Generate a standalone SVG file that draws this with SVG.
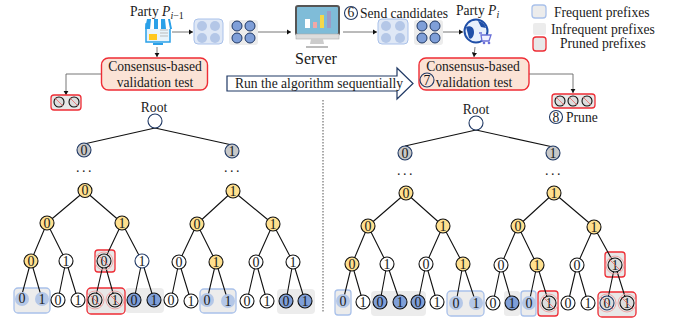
<svg xmlns="http://www.w3.org/2000/svg" width="681" height="324" viewBox="0 0 681 324">
<style>
text{font-family:"Liberation Serif","Times New Roman",serif;fill:#1a1a1a;font-size:13.600px}
.c{text-anchor:middle}
.d{font-size:14px;text-anchor:middle}
.big{font-size:16px}
.dt{font-size:14px;letter-spacing:2.500px;text-anchor:middle}
.w,.y,.g,.b,.r,.lb,.u{stroke-width:1.1}
.w{fill:#fff;stroke:#111}
.u{fill:#fff;stroke:#1f3864}
.y{fill:#ffe08e;stroke:#111}
.g{fill:#c8c8c8;stroke:#1f3864}
.b{fill:#7f9fd8;stroke:#111}
.lb{fill:#b4c7e7;stroke:none}
.r{fill:#ddd;stroke:#111}
.rx{fill:none;stroke:#e99;stroke-width:.8}
.sl{stroke:#e55;stroke-width:.7}
.bf{fill:#ececec;stroke:#a9c1ea;stroke-width:1.3}
.bg{fill:#ececec;stroke:none}
.br{fill:#e8e8e8;stroke:#ee2d35;stroke-width:1.3}
.rb{fill:#fbe3d6;stroke:#ee2d35;stroke-width:1.4}
.e{fill:none;stroke:#111;stroke-width:1.1}
.a{fill:none;stroke:#666;stroke-width:.9;marker-end:url(#ah)}
.num{fill:#fff;stroke:#1f3864;stroke-width:1.1}
.dot{fill:#7f9fd8;stroke:#1f3864;stroke-width:1}
.pale{fill:#b4c7e7}
</style>
<defs>
<marker id="ah" markerWidth="6" markerHeight="6" refX="5" refY="3" orient="auto"><path d="M0 0L5 3L0 6z" fill="#111"/></marker>
</defs>
<rect width="681" height="324" fill="#fff"/>

<g id="highlights">
<rect class="bf" x="14" y="288" width="36" height="25" rx="4"/>
<rect class="bg" x="125" y="288" width="39" height="25" rx="4"/>
<rect class="bf" x="200" y="289" width="36" height="24" rx="4"/>
<rect class="bg" x="277" y="289" width="38" height="25" rx="4"/>
<rect class="br" x="95" y="250" width="20" height="22" rx="3"/>
<rect class="br" x="87" y="288" width="38" height="26" rx="4"/>
<rect class="bf" x="335" y="290" width="16" height="25" rx="3"/>
<rect class="bg" x="371" y="291" width="55" height="25" rx="4"/>
<rect class="bf" x="447" y="291" width="37" height="25" rx="4"/>
<rect class="bg" x="504" y="291" width="16" height="25" rx="3"/>
<rect class="bf" x="521" y="291" width="15" height="25" rx="3"/>
<rect class="br" x="538" y="291" width="20" height="25" rx="3"/>
<rect class="br" x="605" y="252" width="20" height="25" rx="3"/>
<rect class="br" x="598" y="292" width="38" height="25" rx="4"/>
</g>

<g id="connectors">
<path class="e" d="M155 128L84 144M155 128L232 145M85 191L47 223M85 191L122 223M47 223L31 261M47 223L66 261M122 223L104 261M122 223L142 261M31 261L21 298M31 261L42 299M66 261L58 300M66 261L78 300M104 261L95 300M104 261L115 300M142 261L134 300M142 261L154 300M233 191L197 224M233 191L273 224M197 224L179 262M197 224L216 262M273 224L256 262M273 224L293 262M179 262L171 300M179 262L191 301M216 262L207 300M216 262L228 301M256 262L247 301M256 262L267 301M293 262L286 301M293 262L305 301"/>
<path class="e" d="M476 130L405 146M476 130L553 147M406 193L368 226M406 193L443 226M368 226L352 264M368 226L387 264M443 226L426 264M443 226L463 264M352 264L343 301M352 264L363 302M387 264L380 302M387 264L400 302M426 264L418 302M426 264L437 302M463 264L456 303M463 264L476 303M554 193L518 226M554 193L594 227M518 226L501 265M518 226L537 265M594 227L577 265M594 227L615 265M501 265L493 303M501 265L512 303M537 265L529 303M537 265L549 303M577 265L568 303M577 265L588 303M615 265L607 303M615 265L627 303"/>
<path class="a" d="M172 32H193"/>
<path class="a" d="M258 32H291"/>
<path class="a" d="M343 32H377"/>
<path class="a" d="M442 32H463"/>
<path class="a" d="M157 47V57"/>
<path class="a" d="M475 47L474 57"/>
<path class="a" d="M101 74H66V95"/>
<path class="a" d="M529 74H573V93"/>
<path d="M323 100V313" fill="none" stroke="#555" stroke-width="1" stroke-dasharray="1.500 1.500"/>
</g>

<g id="party-prev">
<text x="130" y="16">Party <tspan font-style="italic">P</tspan><tspan style="font-size:10px" dy="3" font-style="italic">i</tspan><tspan style="font-size:10px">−1</tspan></text>
<rect x="146" y="24" width="24" height="18" fill="#e8f4fc" stroke="#2aa0e8" stroke-width="1.500"/>
<path d="M147 19H170L172 29H145z" fill="#2aa0e8"/>
<path d="M151 19h3v10h-4zM158 19h3v10h-3zM165 19h3l2 10h-4z" fill="#fff"/>
<rect x="149" y="34" width="8" height="6" fill="#ffc820"/>
<path d="M160 30h8M160 33h8M160 36h8" stroke="#bbb" stroke-width="1"/>
<rect x="153" y="43" width="10" height="2" fill="#2aa0e8"/>
</g>

<g id="cand-left">
<rect x="194" y="19" width="29" height="25" rx="4" fill="#dfe8f6" stroke="#a9c1ea" stroke-width="1"/>
<circle class="pale" cx="202" cy="26" r="5"/><circle class="pale" cx="215" cy="26" r="5"/><circle class="pale" cx="202" cy="38" r="5"/><circle class="pale" cx="215" cy="38" r="5"/>
<rect x="229" y="20" width="29" height="25" rx="3" fill="#ececec"/>
<circle class="dot" cx="237" cy="26" r="5"/><circle class="dot" cx="250" cy="26" r="5"/><circle class="dot" cx="237" cy="38" r="5"/><circle class="dot" cx="250" cy="38" r="5"/>
</g>

<g id="server">
<rect x="296" y="6" width="43" height="29" rx="2" fill="#7fbcd8" stroke="#555" stroke-width="2"/>
<rect x="296" y="34" width="43" height="5" fill="#ddd" stroke="#aaa" stroke-width=".6"/>
<path d="M311 39h12l1 5h-14z" fill="#ccc"/>
<rect x="306" y="46" width="22" height="2" fill="#bbb"/>
<rect x="305" y="19" width="5" height="9" fill="#fff"/>
<rect x="313" y="22" width="4" height="6" fill="#f2a7a7"/>
<rect x="320" y="15" width="4" height="13" fill="#f4d84a"/>
<rect x="327" y="11" width="4" height="17" fill="#9b9bc7"/>
<text class="big c" x="316" y="64">Server</text>
</g>

<g id="validation-left">
<rect class="rb" x="101.500" y="58" width="106" height="32" rx="7"/>
<text class="c" x="155" y="71">Consensus-based</text>
<text class="c" x="155" y="87">validation test</text>
</g>

<g id="pruned-left">
<rect class="br" x="51" y="95" width="30" height="15" rx="3"/>
<circle class="r" cx="59" cy="102" r="5"/><circle class="r" cx="74" cy="102" r="5"/>
<path class="sl" d="M55 98L63 106M70 98L78 106"/>
</g>

<g id="run">
<path d="M227 76H397V68L413 83.500L397 99V91H227z" fill="#fff" stroke="#1f3864" stroke-width="1.200"/>
<text x="235" y="88">Run the algorithm sequentially</text>
</g>

<g id="send">
<circle class="num" cx="351" cy="13" r="6.500"/>
<text class="c" x="351" y="17">6</text>
<text x="360" y="18">Send candidates</text>
</g>

<g id="cand-right">
<rect x="378" y="19" width="30" height="25" rx="4" fill="#dfe8f6" stroke="#a9c1ea" stroke-width="1"/>
<circle class="pale" cx="386" cy="26" r="5"/><circle class="pale" cx="400" cy="26" r="5"/><circle class="pale" cx="386" cy="38" r="5"/><circle class="pale" cx="400" cy="38" r="5"/>
<rect x="414" y="20" width="29" height="25" rx="3" fill="#ececec"/>
<circle class="dot" cx="422" cy="26" r="5"/><circle class="dot" cx="435" cy="26" r="5"/><circle class="dot" cx="422" cy="38" r="5"/><circle class="dot" cx="435" cy="38" r="5"/>
</g>

<g id="party-i">
<text x="456" y="15">Party <tspan font-style="italic">P</tspan><tspan style="font-size:10px" dy="3" font-style="italic">i</tspan></text>
<circle cx="476" cy="31" r="11.500" fill="#e8f0fc" stroke="#1f4fa8" stroke-width="2"/>
<path d="M466 27c4-2 8 0 8 5s-3 8-5 6zM478 21c3 0 7 3 8 7l-5-1z" fill="#1f4fa8"/>
<path d="M481 35h10l-2 6h-7zM479 33h3" fill="#f0f0ff" stroke="#6a70d8" stroke-width="1.300"/>
<circle cx="484" cy="43" r="1.300" fill="#6a70d8"/><circle cx="489" cy="43" r="1.300" fill="#6a70d8"/>
</g>

<g id="validation-right">
<rect class="rb" x="419" y="58" width="110" height="32" rx="7"/>
<text class="c" x="473" y="71">Consensus-based</text>
<text class="c" x="474" y="87">validation test</text>
<circle cx="427" cy="80" r="7" fill="none" stroke="#1f3864" stroke-width="1.100"/>
<text class="c" x="427" y="84.500">7</text>
</g>

<g id="pruned-right">
<rect class="br" x="552" y="94" width="43" height="14" rx="3"/>
<circle class="r" cx="560" cy="101" r="5"/><circle class="r" cx="573" cy="101" r="5"/><circle class="r" cx="587" cy="101" r="5"/>
<path class="sl" d="M556 97L564 105M569 97L577 105M583 97L591 105"/>
<circle class="num" cx="556" cy="117" r="6.500"/>
<text class="c" x="556" y="121.500">8</text>
<text x="566" y="122">Prune</text>
</g>

<g id="legend">
<rect class="bf" x="532" y="5" width="14" height="13" rx="3"/>
<text x="554" y="17">Frequent prefixes</text>
<rect class="bg" x="533" y="23" width="13" height="12" rx="2"/>
<text x="551" y="34">Infrequent prefixes</text>
<rect class="br" x="533" y="37" width="13" height="14" rx="3"/>
<text x="560" y="48">Pruned prefixes</text>
</g>

<g id="root-left"><text class="c" x="154" y="112">Root</text><circle class="u" cx="155" cy="121" r="7"/></g>
<g id="root-right"><text class="c" x="476" y="114">Root</text><circle class="u" cx="476" cy="123" r="7"/></g>
<g id="dots"><text class="dt" x="85" y="172">...</text><text class="dt" x="233" y="172">...</text><text class="dt" x="406" y="175">...</text><text class="dt" x="554" y="175">...</text></g>

<g id="l1"><circle class="g" cx="84" cy="150" r="7"/><text class="d" x="84" y="154.500">0</text></g>
<g id="l2"><circle class="g" cx="232" cy="151" r="7"/><text class="d" x="232" y="155.500">1</text></g>
<g id="l3"><circle class="y" cx="85" cy="190.500" r="7"/><text class="d" x="85" y="195">0</text></g>
<g id="l4"><circle class="y" cx="233" cy="191" r="7"/><text class="d" x="233" y="195.500">1</text></g>
<g id="l5"><circle class="y" cx="47" cy="223" r="7"/><text class="d" x="47" y="227.500">0</text></g>
<g id="l6"><circle class="y" cx="122" cy="223" r="7"/><text class="d" x="122" y="227.500">1</text></g>
<g id="l7"><circle class="y" cx="197" cy="224" r="7"/><text class="d" x="197" y="228.500">0</text></g>
<g id="l8"><circle class="y" cx="273" cy="224" r="7"/><text class="d" x="273" y="228.500">1</text></g>
<g id="l9"><circle class="y" cx="31" cy="261" r="7"/><text class="d" x="31" y="265.500">0</text></g>
<g id="l10"><circle class="w" cx="66" cy="261" r="7"/><text class="d" x="66" y="265.500">1</text></g>
<g id="l11"><circle class="r" cx="104" cy="261" r="7"/><circle class="rx" cx="104" cy="261" r="9"/><text class="d" x="104" y="265.500">0</text><path class="sl" d="M98 255L110 267"/></g>
<g id="l12"><circle class="u" cx="142" cy="261" r="7"/><text class="d" x="142" y="265.500">1</text></g>
<g id="l13"><circle class="w" cx="179" cy="262" r="7"/><text class="d" x="179" y="266.500">0</text></g>
<g id="l14"><circle class="y" cx="216" cy="262" r="7"/><text class="d" x="216" y="266.500">1</text></g>
<g id="l15"><circle class="w" cx="256" cy="262" r="7"/><text class="d" x="256" y="266.500">0</text></g>
<g id="l16"><circle class="w" cx="293" cy="262" r="7"/><text class="d" x="293" y="266.500">1</text></g>
<g id="l17"><circle class="lb" cx="22" cy="299" r="7"/><text class="d" x="22" y="303">0</text></g>
<g id="l18"><circle class="lb" cx="42" cy="299" r="7"/><text class="d" x="42" y="303.500">1</text></g>
<g id="l19"><circle class="w" cx="58" cy="300" r="7"/><text class="d" x="58" y="304.500">0</text></g>
<g id="l20"><circle class="w" cx="78" cy="300" r="7"/><text class="d" x="78" y="304.500">1</text></g>
<g id="l21"><circle class="r" cx="95" cy="300" r="7"/><circle class="rx" cx="95" cy="300" r="9"/><text class="d" x="95" y="304.500">0</text><path class="sl" d="M89 294L101 306"/></g>
<g id="l22"><circle class="r" cx="115" cy="300" r="7"/><circle class="rx" cx="115" cy="300" r="9"/><text class="d" x="115" y="304.500">1</text><path class="sl" d="M109 294L121 306"/></g>
<g id="l23"><circle class="b" cx="134" cy="300" r="7"/><text class="d" x="134" y="304.500">0</text></g>
<g id="l24"><circle class="b" cx="154" cy="300" r="7"/><text class="d" x="154" y="304.500">1</text></g>
<g id="l25"><circle class="w" cx="171" cy="300" r="7"/><text class="d" x="171" y="304.500">0</text></g>
<g id="l26"><circle class="w" cx="191" cy="301" r="7"/><text class="d" x="191" y="305.500">1</text></g>
<g id="l27"><circle class="lb" cx="207" cy="300" r="7"/><text class="d" x="207" y="304.500">0</text></g>
<g id="l28"><circle class="lb" cx="228" cy="301" r="7"/><text class="d" x="228" y="305.500">1</text></g>
<g id="l29"><circle class="w" cx="247" cy="301" r="7"/><text class="d" x="247" y="305.500">0</text></g>
<g id="l30"><circle class="w" cx="267" cy="301" r="7"/><text class="d" x="267" y="305.500">1</text></g>
<g id="l31"><circle class="b" cx="286" cy="301" r="7"/><text class="d" x="286" y="305.500">0</text></g>
<g id="l32"><circle class="b" cx="305" cy="301" r="7"/><text class="d" x="305" y="305.500">1</text></g>

<g id="r1"><circle class="g" cx="405" cy="153" r="7"/><text class="d" x="405" y="157.500">0</text></g>
<g id="r2"><circle class="g" cx="553" cy="153" r="7"/><text class="d" x="553" y="157.500">1</text></g>
<g id="r3"><circle class="y" cx="406" cy="193" r="7"/><text class="d" x="406" y="197.500">0</text></g>
<g id="r4"><circle class="y" cx="554" cy="193" r="7"/><text class="d" x="554" y="197.500">1</text></g>
<g id="r5"><circle class="y" cx="368" cy="226" r="7"/><text class="d" x="368" y="230.500">0</text></g>
<g id="r6"><circle class="y" cx="443" cy="226" r="7"/><text class="d" x="443" y="230.500">1</text></g>
<g id="r7"><circle class="y" cx="518" cy="226" r="7"/><text class="d" x="518" y="230.500">0</text></g>
<g id="r8"><circle class="y" cx="594" cy="227" r="7"/><text class="d" x="594" y="231.500">1</text></g>
<g id="r9"><circle class="y" cx="352" cy="264" r="7"/><text class="d" x="352" y="268.500">0</text></g>
<g id="r10"><circle class="w" cx="387" cy="264" r="7"/><text class="d" x="387" y="268.500">1</text></g>
<g id="r11"><circle class="w" cx="426" cy="264" r="7"/><text class="d" x="426" y="268.500">0</text></g>
<g id="r12"><circle class="y" cx="463" cy="264" r="7"/><text class="d" x="463" y="268.500">1</text></g>
<g id="r13"><circle class="w" cx="501" cy="265" r="7"/><text class="d" x="501" y="269.500">0</text></g>
<g id="r14"><circle class="y" cx="537" cy="265" r="7"/><text class="d" x="537" y="269.500">1</text></g>
<g id="r15"><circle class="w" cx="577" cy="265" r="7"/><text class="d" x="577" y="269.500">0</text></g>
<g id="r16"><circle class="r" cx="615" cy="265" r="7"/><circle class="rx" cx="615" cy="265" r="9"/><text class="d" x="615" y="269.500">1</text><path class="sl" d="M609 259L621 271"/></g>
<g id="r17"><circle class="lb" cx="343" cy="301" r="7"/><text class="d" x="343" y="305.500">0</text></g>
<g id="r18"><circle class="w" cx="363" cy="302" r="7"/><text class="d" x="363" y="306.500">1</text></g>
<g id="r19"><circle class="b" cx="380" cy="302" r="7"/><text class="d" x="380" y="306.500">0</text></g>
<g id="r20"><circle class="b" cx="400" cy="302" r="7"/><text class="d" x="400" y="306.500">1</text></g>
<g id="r21"><circle class="b" cx="418" cy="302" r="7"/><text class="d" x="418" y="306.500">0</text></g>
<g id="r22"><circle class="w" cx="437" cy="302" r="7"/><text class="d" x="437" y="306.500">1</text></g>
<g id="r23"><circle class="lb" cx="456" cy="303" r="7"/><text class="d" x="456" y="307.500">0</text></g>
<g id="r24"><circle class="lb" cx="476" cy="303" r="7"/><text class="d" x="476" y="307.500">1</text></g>
<g id="r25"><circle class="w" cx="493" cy="303" r="7"/><text class="d" x="493" y="307.500">0</text></g>
<g id="r26"><circle class="b" cx="512" cy="303" r="7"/><text class="d" x="512" y="307.500">1</text></g>
<g id="r27"><circle class="lb" cx="529" cy="303" r="7"/><text class="d" x="529" y="307.500">0</text></g>
<g id="r28"><circle class="r" cx="549" cy="303" r="7"/><circle class="rx" cx="549" cy="303" r="9"/><text class="d" x="549" y="307.500">1</text><path class="sl" d="M543 297L555 309"/></g>
<g id="r29"><circle class="w" cx="568" cy="303" r="7"/><text class="d" x="568" y="307.500">0</text></g>
<g id="r30"><circle class="w" cx="588" cy="303" r="7"/><text class="d" x="588" y="307.500">1</text></g>
<g id="r31"><circle class="r" style="stroke:#1f3864" cx="607" cy="303" r="7"/><circle class="rx" cx="607" cy="303" r="9"/><text class="d" x="607" y="307.500">0</text><path class="sl" d="M601 297L613 309"/></g>
<g id="r32"><circle class="r" cx="627" cy="303" r="7"/><circle class="rx" cx="627" cy="303" r="9"/><text class="d" x="627" y="307.500">1</text><path class="sl" d="M621 297L633 309"/></g>
</svg>
